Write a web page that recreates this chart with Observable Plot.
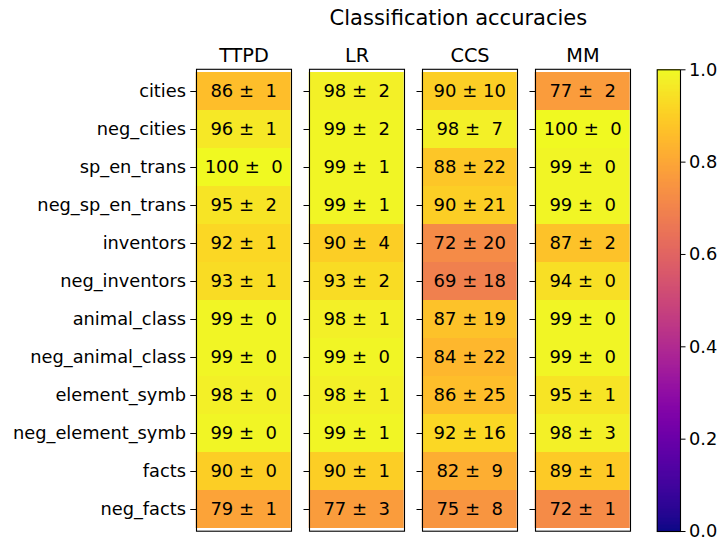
<!DOCTYPE html>
<html>
<head>
<meta charset="utf-8">
<script src="https://cdn.jsdelivr.net/npm/d3@7"></script>
<script src="https://cdn.jsdelivr.net/npm/@observablehq/plot@0.6"></script>
<style>
  html, body { margin: 0; padding: 0; background: #fff; }
  #wrap { position: relative; width: 727px; height: 552px; font-family: "DejaVu Sans", sans-serif; }
  #wrap svg { position: absolute; left: 0; top: 0; background: transparent !important; }
  #wrap svg text { white-space: pre; }
  #title { position: absolute; left: 458.4px; top: 8px; transform: translateX(-50%); font-size: 21px; line-height: 21px; color: #000; white-space: nowrap; }
</style>
</head>
<body>
<div id="wrap"><div id="title">Classification accuracies</div></div>
<script>
const datasets = ["cities", "neg_cities", "sp_en_trans", "neg_sp_en_trans", "inventors", "neg_inventors",
  "animal_class", "neg_animal_class", "element_symb", "neg_element_symb", "facts", "neg_facts"];
const methods = ["TTPD", "LR", "CCS", "MM"];
const ttpdMean = [86, 96, 100, 95, 92, 93, 99, 99, 98, 99, 90, 79];
const ttpdStd  = [1, 1, 0, 2, 1, 1, 0, 0, 0, 0, 0, 1];
const lrMean   = [98, 99, 99, 99, 90, 93, 98, 99, 98, 99, 90, 77];
const lrStd    = [2, 2, 1, 1, 4, 2, 1, 0, 1, 1, 1, 3];
const ccsMean  = [90, 98, 88, 90, 72, 69, 87, 84, 86, 92, 82, 75];
const ccsStd   = [10, 7, 22, 21, 20, 18, 19, 22, 25, 16, 9, 8];
const mmMean   = [77, 100, 99, 99, 87, 94, 99, 99, 95, 98, 89, 72];
const mmStd    = [2, 0, 0, 0, 2, 0, 0, 0, 1, 3, 1, 1];
const colorTicks = [0, 0.2, 0.4, 0.6, 0.8, 1.0];

const series = [[ttpdMean, ttpdStd], [lrMean, lrStd], [ccsMean, ccsStd], [mmMean, mmStd]];
const data = [];
methods.forEach((m, i) => {
  datasets.forEach((d, j) => {
    data.push({method: m, dataset: d, mean: series[i][0][j], std: series[i][1][j]});
  });
});
const pad2 = v => String(Math.round(v)).padStart(2, " ");

const W = 727, H = 552, TOP = 68.8, BOTTOM = 21.3;

const main = Plot.plot({
  width: W, height: H,
  marginTop: TOP, marginBottom: BOTTOM, marginLeft: 195.3, marginRight: 727 - 629.6,
  style: {fontFamily: "DejaVu Sans, sans-serif", fontSize: "17.8px", color: "#000", background: "transparent"},
  fx: {domain: methods, paddingInner: 0.1618, paddingOuter: 0, axis: null},
  x: {domain: ["v"], padding: 0, axis: null},
  y: {domain: datasets, padding: 0, axis: null},
  color: {type: "linear", scheme: "plasma", domain: [0, 1]},
  marks: [
    Plot.cell(data, {fx: "method", x: () => "v", y: "dataset", fill: d => d.mean / 100}),
    Plot.text(data, {fx: "method", x: () => "v", y: "dataset", text: d => `${pad2(d.mean)} ± ${pad2(d.std)}`, fontSize: 18, fill: "#000"}),
    Plot.frame({stroke: "#000", strokeWidth: 1.1}),
    Plot.axisY({tickSize: 5.5, tickPadding: 5, label: null, fontSize: 17.8, stroke: "#000", fill: "#000"}),
    Plot.axisY({tickSize: 5.5, tickFormat: () => "", label: null, facetAnchor: null, stroke: "#000"}),
    Plot.axisFx({anchor: "top", tickSize: 0, tickPadding: 7, label: null, fontSize: 19.3, fill: "#000"})
  ]
});

const steps = d3.range(0, 1, 1 / 400);
const cbar = Plot.plot({
  width: W, height: H,
  marginTop: 69.3, marginBottom: 21, marginLeft: 656.7, marginRight: 727 - 680,
  style: {fontFamily: "DejaVu Sans, sans-serif", fontSize: "17.8px", color: "#000", background: "transparent"},
  x: {domain: [0, 1], axis: null},
  y: {domain: [0, 1], axis: null},
  color: {type: "linear", scheme: "plasma", domain: [0, 1]},
  marks: [
    Plot.rect(steps, {x1: 0, x2: 1, y1: d => d, y2: d => Math.min(1, d + 1 / 400 + 0.001), fill: d => d + 0.5 / 400, shapeRendering: "crispEdges"}),
    Plot.frame({stroke: "#000", strokeWidth: 1.1}),
    Plot.axisY({anchor: "right", ticks: colorTicks, tickFormat: d3.format(".1f"), tickSize: 4.5, tickPadding: 4, label: null, fontSize: 17.8, stroke: "#000", fill: "#000"})
  ]
});

const wrap = document.getElementById("wrap");
wrap.appendChild(main);
wrap.appendChild(cbar);
</script>
</body>
</html>
